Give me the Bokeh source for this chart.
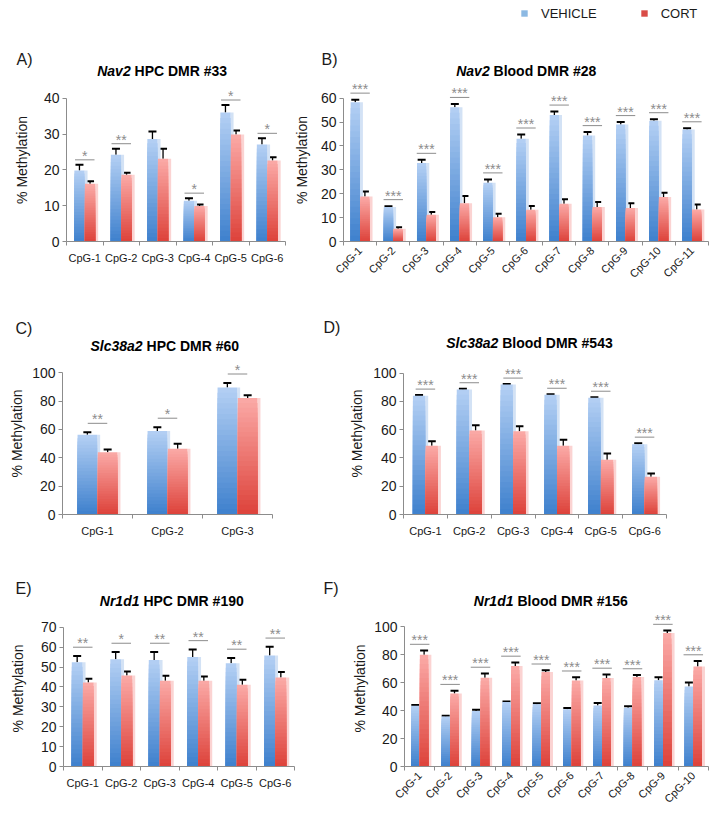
import numpy as np
from bokeh.plotting import figure
from bokeh.models import (Range1d, FixedTicker, Label, Whisker, TeeHead,
                          ColumnDataSource, Legend, LegendItem)
from bokeh.layouts import column, row
from bokeh.embed import file_html
from bokeh.resources import INLINE
from bokeh.core.properties import value

# ---------------- data ----------------
a_cats = ["CpG-1", "CpG-2", "CpG-3", "CpG-4", "CpG-5", "CpG-6"]
a_vehicle = [19.8, 24.2, 28.6, 11.4, 36.0, 27.1]
a_vehicle_err = [1.6, 1.7, 2.1, 0.7, 2.1, 1.7]
a_cort = [16.1, 18.6, 23.1, 9.9, 29.9, 22.6]
a_cort_err = [0.7, 0.6, 2.8, 0.4, 1.1, 0.9]
a_sig = ["*", "**", "", "*", "*", "*"]

b_cats = ["CpG-1", "CpG-2", "CpG-3", "CpG-4", "CpG-5", "CpG-6", "CpG-7",
          "CpG-8", "CpG-9", "CpG-10", "CpG-11"]
b_vehicle = [58.3, 14.4, 32.9, 56.2, 24.6, 43.0, 53.0, 44.4, 49.0, 50.6, 46.9]
b_vehicle_err = [1.1, 0.4, 1.3, 1.4, 1.4, 1.8, 1.4, 1.4, 1.0, 0.6, 0.5]
b_cort = [18.8, 5.3, 11.2, 16.0, 10.2, 13.3, 15.8, 14.4, 14.0, 18.6, 13.4]
b_cort_err = [2.1, 0.7, 1.1, 3.0, 1.4, 1.6, 1.9, 2.1, 2.0, 1.8, 2.1]
b_sig = ["***"] * 11

c_cats = ["CpG-1", "CpG-2", "CpG-3"]
c_vehicle = [56.2, 59.0, 89.7]
c_vehicle_err = [1.8, 2.6, 3.1]
c_cort = [44.0, 46.4, 82.2]
c_cort_err = [1.9, 3.5, 1.9]
c_sig = ["**", "*", "*"]

d_cats = ["CpG-1", "CpG-2", "CpG-3", "CpG-4", "CpG-5", "CpG-6"]
d_vehicle = [84.0, 88.5, 92.0, 84.7, 82.6, 49.8]
d_vehicle_err = [0.5, 0.5, 0.3, 0.4, 0.4, 0.7]
d_cort = [48.6, 59.4, 59.0, 48.6, 38.7, 26.7]
d_cort_err = [3.3, 3.8, 3.5, 4.3, 4.5, 2.3]
d_sig = ["***"] * 6

e_cats = ["CpG-1", "CpG-2", "CpG-3", "CpG-4", "CpG-5", "CpG-6"]
e_vehicle = [52.4, 54.0, 53.6, 55.1, 51.9, 55.9]
e_vehicle_err = [3.2, 3.6, 4.0, 3.8, 2.7, 4.3]
e_cort = [42.2, 45.8, 43.2, 43.2, 41.1, 44.8]
e_cort_err = [2.0, 2.0, 2.5, 2.1, 2.5, 2.7]
e_sig = ["**", "*", "**", "**", "**", "**"]

f_cats = ["CpG-1", "CpG-2", "CpG-3", "CpG-4", "CpG-5", "CpG-6", "CpG-7",
          "CpG-8", "CpG-9", "CpG-10"]
f_vehicle = [43.5, 35.7, 39.8, 46.1, 44.5, 40.9, 43.6, 42.0, 61.8, 57.3]
f_vehicle_err = [0.6, 0.6, 0.8, 0.5, 0.7, 0.9, 1.8, 1.2, 2.1, 2.9]
f_cort = [80.0, 52.3, 63.6, 72.0, 67.7, 61.6, 63.4, 64.1, 95.5, 71.6]
f_cort_err = [3.0, 2.0, 3.0, 2.5, 1.2, 2.3, 2.5, 1.4, 1.8, 3.9]
f_sig = ["***"] * 10

series_names = ["VEHICLE", "CORT"]

# ---------------- style ----------------
FONT = "Liberation Sans"
AXIS_COL = "#8c8c8c"
TEXT_COL = "#1a1a1a"
SIG_COL = "#8c8c8c"
BLUE_DARK, BLUE_LIGHT = (62, 128, 205), (180, 208, 244)
RED_DARK, RED_LIGHT = (221, 66, 58), (251, 170, 167)
BLUE_SHADOW, RED_SHADOW = "#d3e2f5", "#fbd3d2"
LEGEND_BLUE, LEGEND_RED = "#8cb9e3", "#d94c47"
N_SLICES = 24
BAR_W = 0.28
OFFSET = 0.145
BOLD_W = {"N": .722, "a": .556, "v": .556, "2": .556, "S": .667, "l": .278,
          "c": .556, "3": .556, "8": .556, "r": .389, "1": .556, "d": .611}
FULL_W = 713


def hexcol(c):
    return "#%02x%02x%02x" % tuple(int(round(v)) for v in c)


def gradient_source(xs, vals, dark, light):
    x, top, colors = [], [], []
    for xi, v in zip(xs, vals):
        for k in range(N_SLICES - 1, -1, -1):
            t = (k + 0.5) / N_SLICES
            col = [dark[j] + (light[j] - dark[j]) * t for j in range(3)]
            x.append(xi)
            top.append(v * (k + 1) / N_SLICES)
            colors.append(hexcol(col))
    return ColumnDataSource(dict(x=x, top=top, bottom=[0] * len(x), color=colors))


def header(height, letters, titles, legend_at=None):
    h = figure(width=FULL_W, height=height, title=None,
               x_range=Range1d(0, 1), y_range=Range1d(0, 1),
               x_axis_type=None, y_axis_type=None,
               output_backend="svg", toolbar_location=None,
               min_border_left=0, min_border_right=0,
               min_border_top=0, min_border_bottom=0)
    h.outline_line_color = None
    for text, x, y in letters:
        h.add_layout(Label(x=x, y=y, x_units="screen", y_units="screen",
                           text=text, text_font=FONT, text_font_size="16px",
                           text_color=TEXT_COL, text_baseline="middle",
                           text_align="left"))
    for gene, rest, x, y in titles:
        gene_w = sum(BOLD_W.get(ch, .556) for ch in gene) * 14 + 3.9
        h.add_layout(Label(x=x, y=y, x_units="screen", y_units="screen",
                           text=gene, text_font=FONT, text_font_size="14px",
                           text_font_style="bold italic", text_color="black",
                           text_baseline="middle", text_align="left"))
        h.add_layout(Label(x=x + gene_w, y=y, x_units="screen", y_units="screen",
                           text=rest, text_font=FONT, text_font_size="14px",
                           text_font_style="bold", text_color="black",
                           text_baseline="middle", text_align="left"))
    if legend_at is not None:
        # zero-height proxy bars: they only feed the legend swatches
        rv = h.vbar(x=[0.5], top=[0], bottom=[0], width=0.01,
                    fill_color=LEGEND_BLUE, line_color=None)
        rc = h.vbar(x=[0.5], top=[0], bottom=[0], width=0.01,
                    fill_color=LEGEND_RED, line_color=None)
        leg = Legend(items=[LegendItem(label=series_names[0], renderers=[rv]),
                            LegendItem(label=series_names[1], renderers=[rc])],
                     orientation="horizontal", location=legend_at,
                     glyph_width=8, glyph_height=8, label_height=16,
                     label_standoff=13, spacing=43, padding=0, margin=0,
                     border_line_color=None, background_fill_alpha=0,
                     label_text_font=FONT, label_text_font_size="13px",
                     label_text_color=TEXT_COL)
        h.add_layout(leg)
    return h


def panel(cats, veh, veh_err, cort, cort_err, sig, ymax, ystep,
          fig_w, fig_h, f_left, f_right, f_bottom, ymax_px,
          label_standoff, sig_gap, rotate=False):
    n = len(cats)
    frame_w = f_right - f_left
    axis_px = f_bottom - ymax_px
    scale = axis_px / ymax
    y_end = f_bottom / scale
    cat_px = frame_w / n
    p = figure(width=fig_w, height=fig_h, title=None,
               x_range=Range1d(-0.5, n - 0.5), y_range=Range1d(0, y_end),
               output_backend="svg", toolbar_location=None,
               min_border_left=f_left, min_border_right=fig_w - f_right,
               min_border_top=0, min_border_bottom=fig_h - f_bottom)
    p.outline_line_color = None
    p.xgrid.visible = False
    p.ygrid.visible = False

    idx = np.arange(n)
    xv = idx - OFFSET
    xc = idx + OFFSET
    sh_w = 3.0 / cat_px
    sh_dx = BAR_W / 2 + sh_w / 2
    p.vbar(x=xv + sh_dx, top=veh, bottom=0, width=sh_w,
           fill_color=BLUE_SHADOW, line_color=None)
    p.vbar(x=xc + sh_dx, top=cort, bottom=0, width=sh_w,
           fill_color=RED_SHADOW, line_color=None)
    src_v = gradient_source(xv, veh, BLUE_DARK, BLUE_LIGHT)
    src_c = gradient_source(xc, cort, RED_DARK, RED_LIGHT)
    p.vbar(x="x", top="top", bottom="bottom", width=BAR_W, source=src_v,
           fill_color="color", line_color=None)
    p.vbar(x="x", top="top", bottom="bottom", width=BAR_W, source=src_c,
           fill_color="color", line_color=None)

    for xs, vals, errs in ((xv, veh, veh_err), (xc, cort, cort_err)):
        es = ColumnDataSource(dict(base=list(xs), lower=list(vals),
                                   upper=[v + e for v, e in zip(vals, errs)]))
        w = Whisker(source=es, base="base", lower="lower", upper="upper",
                    line_color="black", line_width=1.3, lower_head=None,
                    upper_head=TeeHead(size=8, line_color="black", line_width=2))
        p.add_layout(w)

    # significance markers
    sx0, sx1, sy, sx, st = [], [], [], [], []
    half = 9.75 / cat_px
    for i, s in enumerate(sig):
        if not s:
            continue
        y = max(veh[i] + veh_err[i], cort[i] + cort_err[i]) + sig_gap / scale
        sx0.append(i - half)
        sx1.append(i + half)
        sy.append(y)
        sx.append(i)
        st.append(s)
    p.segment(x0=sx0, y0=sy, x1=sx1, y1=sy, line_color=SIG_COL, line_width=1)
    p.text(x=sx, y=sy, text=st, text_font=value(FONT), text_font_size="14px",
           text_color=SIG_COL, text_align="center", text_baseline="alphabetic",
           y_offset=-4)

    # axes
    ya = p.yaxis[0]
    ya.ticker = FixedTicker(ticks=list(np.arange(0, ymax + 0.001, ystep)))
    ya.bounds = (0, ymax)
    ya.axis_line_color = AXIS_COL
    ya.major_tick_line_color = AXIS_COL
    ya.major_tick_out = 4
    ya.major_tick_in = 0
    ya.minor_tick_line_color = None
    ya.major_label_text_font = FONT
    ya.major_label_text_font_size = "14px"
    ya.major_label_text_color = TEXT_COL
    ya.major_label_standoff = 3
    ya.axis_label = "% Methylation"
    ya.axis_label_text_font = FONT
    ya.axis_label_text_font_size = "14px"
    ya.axis_label_text_font_style = "normal"
    ya.axis_label_text_color = TEXT_COL
    ya.axis_label_standoff = label_standoff

    xa = p.xaxis[0]
    xa.ticker = FixedTicker(ticks=list(range(n)),
                            minor_ticks=[i - 0.5 for i in range(n + 1)])
    xa.major_label_overrides = {i: c for i, c in enumerate(cats)}
    xa.axis_line_color = AXIS_COL
    xa.major_tick_line_color = None
    xa.major_tick_out = 0
    xa.major_tick_in = 0
    xa.minor_tick_line_color = AXIS_COL
    xa.minor_tick_out = 4
    xa.minor_tick_in = 0
    xa.major_label_text_font = FONT
    xa.major_label_text_font_size = "11px"
    xa.major_label_text_color = TEXT_COL
    xa.major_label_standoff = 6
    if rotate:
        xa.major_label_orientation = np.pi / 4
        xa.major_label_standoff = 3
    return p


h1 = header(78, [("A)", 16, 19), ("B)", 321, 19)],
            [("Nav2", "HPC DMR #33", 96.7, 7.5),
             ("Nav2", "Blood DMR #28", 455.7, 8)],
            legend_at=(520, 57))
pA = panel(a_cats, a_vehicle, a_vehicle_err, a_cort, a_cort_err, a_sig,
           40, 10, 290, 212, 66, 285, 163, 19.7, 11, 5)
pB = panel(b_cats, b_vehicle, b_vehicle_err, b_cort, b_cort_err, b_sig,
           60, 10, 423, 212, 51, 418, 163, 19.7, 8, 6.5, rotate=True)

h2 = header(62, [("C)", 15, 24.5), ("D)", 323, 25)],
            [("Slc38a2", "HPC DMR #60", 90, 7),
             ("Slc38a2", "Blood DMR #543", 445.7, 9.7)])
pC = panel(c_cats, c_vehicle, c_vehicle_err, c_cort, c_cort_err, c_sig,
           100, 20, 290, 198, 62, 272, 162, 20.3, 4, 9)
pD = panel(d_cats, d_vehicle, d_vehicle_err, d_cort, d_cort_err, d_sig,
           100, 20, 423, 198, 113, 376, 162, 20.7, 5, 6)

h3 = header(60, [("E)", 15, 22.5), ("F)", 323, 22.5)],
            [("Nr1d1", "HPC DMR #190", 99.3, 10),
             ("Nr1d1", "Blood DMR #156", 473.3, 10)])
pE = panel(e_cats, e_vehicle, e_vehicle_err, e_cort, e_cort_err, e_sig,
           70, 10, 300, 202, 63, 294, 160, 17.3, 12, 9)
pF = panel(f_cats, f_vehicle, f_vehicle_err, f_cort, f_cort_err, f_sig,
           100, 20, 413, 202, 104, 408, 163, 17, 3, 6.5, rotate=True)

layout = column(h1, row(pA, pB), h2, row(pC, pD), h3, row(pE, pF))
open("out.html", "w").write(file_html(layout, INLINE))
